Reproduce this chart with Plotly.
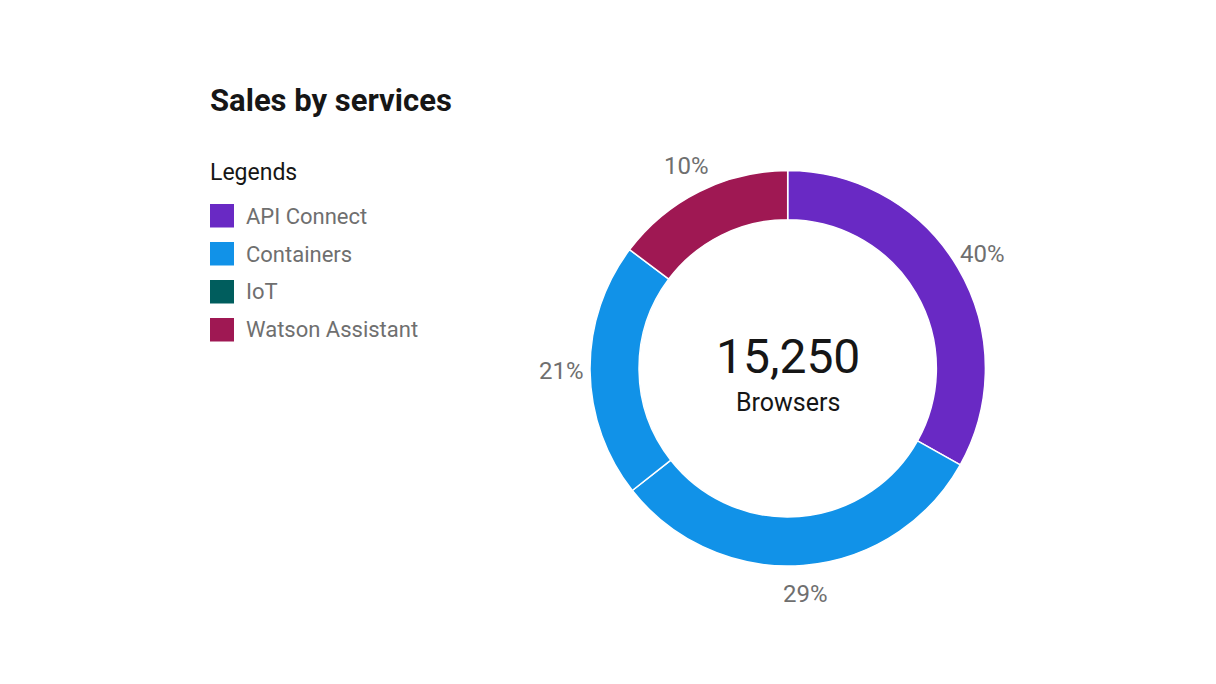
import math
import plotly.graph_objects as go

# ---- data ----
services = ["API Connect", "Containers", "IoT", "Watson Assistant"]
values = [5050, 4770, 3180, 2250]
pct_labels = ["40%", "29%", "21%", "10%"]
slice_colors = ["#6929c4", "#1192e8", "#1192e8", "#9f1853"]
legend_names = ["API Connect", "Containers", "IoT", "Watson Assistant"]
legend_colors = ["#6929c4", "#1192e8", "#005d5d", "#9f1853"]
total_label = "15,250"
total_caption = "Browsers"
title_text = "Sales by services"

W, H = 1216, 684
FONT = "Roboto"


def px(x):
    return x / W


def py(y):
    return 1 - y / H


cx, cy, R = 787.7, 368.3, 197.7
LABEL_R = 226

fig = go.Figure()
fig.add_trace(go.Pie(
    labels=services,
    values=values,
    textinfo="none",
    hole=0.752,
    sort=False,
    direction="clockwise",
    rotation=0,
    marker=dict(colors=slice_colors, line=dict(color="white", width=1.5)),
    domain=dict(x=[px(cx - R), px(cx + R)], y=[py(cy + R), py(cy - R)]),
    showlegend=False,
    hoverinfo="label+value+percent",
))

annotations = [
    dict(x=px(208), y=py(101), text="<b>" + title_text + "</b>", showarrow=False,
         xanchor="left", yanchor="middle", font=dict(family=FONT, size=31, color="#161616")),
    dict(x=px(208), y=py(172), text="Legends", showarrow=False,
         xanchor="left", yanchor="middle", font=dict(family=FONT, size=23, color="#161616")),
    dict(x=px(cx), y=py(356), text=total_label, showarrow=False,
         xanchor="center", yanchor="middle", font=dict(family=FONT, size=48, color="#161616")),
    dict(x=px(cx), y=py(402), text=total_caption, showarrow=False,
         xanchor="center", yanchor="middle", font=dict(family=FONT, size=25, color="#161616")),
]

# percentage labels at slice mid-angles (clockwise from 12 o'clock)
total = sum(values)
cum = 0
for v, lab in zip(values, pct_labels):
    mid = (cum + v / 2) / total * 2 * math.pi
    cum += v
    lx = cx + LABEL_R * math.sin(mid)
    ly = cy - LABEL_R * math.cos(mid)
    annotations.append(dict(x=px(lx), y=py(ly), text=lab, showarrow=False,
                            xanchor="center", yanchor="middle",
                            font=dict(family=FONT, size=24, color="#6f6f6f")))

shapes = []
for i, (name, col) in enumerate(zip(legend_names, legend_colors)):
    top = 204 + 38 * i
    shapes.append(dict(type="rect", xref="paper", yref="paper",
                       x0=px(210), x1=px(234), y0=py(top + 23.5), y1=py(top),
                       fillcolor=col, line=dict(width=0), layer="above"))
    annotations.append(dict(x=px(244), y=py(top + 12), text=name, showarrow=False,
                            xanchor="left", yanchor="middle",
                            font=dict(family=FONT, size=22, color="#6f6f6f")))

fig.update_layout(
    width=W, height=H,
    margin=dict(l=0, r=0, t=0, b=0),
    paper_bgcolor="white", plot_bgcolor="white",
    annotations=annotations, shapes=shapes,
    showlegend=False,
)
fig.write_html("out.html")
